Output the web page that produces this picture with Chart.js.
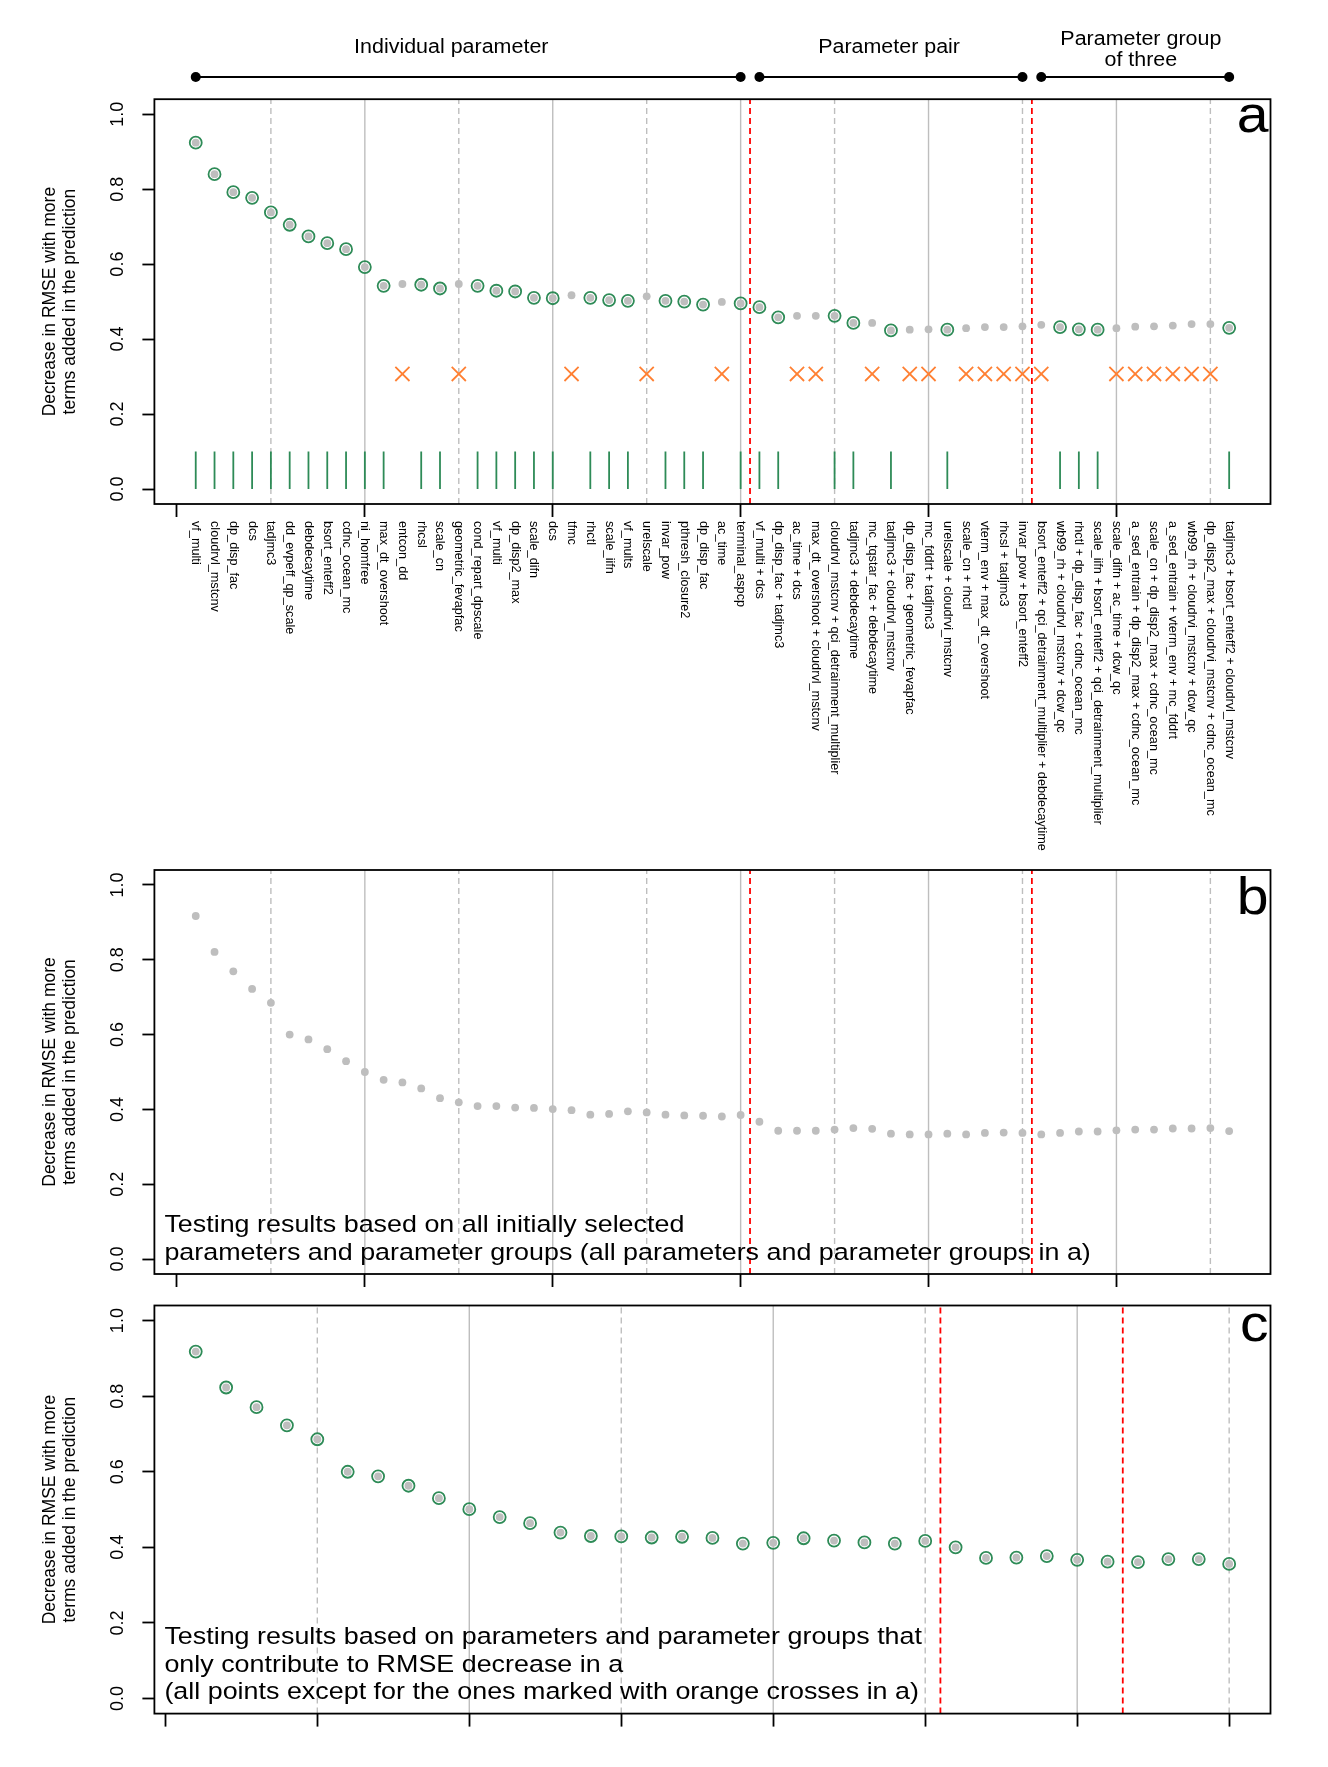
<!DOCTYPE html>
<html>
<head>
<meta charset="utf-8">
<script src="https://cdn.jsdelivr.net/npm/chart.js@4.4.1/dist/chart.umd.min.js"></script>
<style>
  html, body { margin: 0; padding: 0; background: #fff; }
  #page { position: relative; width: 1328px; height: 1767px; }
  canvas { position: absolute; left: 0; }
</style>
</head>
<body>
<div id="page">
  <canvas id="panelA" width="1328" height="862" style="top:0px"></canvas>
  <canvas id="panelB" width="1328" height="430" style="top:862px"></canvas>
  <canvas id="panelC" width="1328" height="475" style="top:1292px"></canvas>
</div>
<script>
// ---- data ----
const aLabels = [
  'vf_multi', 'cloudrvl_mstcnv', 'dp_disp_fac', 'dcs', 'tadjmc3', 'dd_evpeff_qp_scale',
  'debdecaytime', 'bsort_enteff2', 'cdnc_ocean_mc', 'ni_homfree', 'max_dt_overshoot',
  'entcon_dd', 'rhcsl', 'scale_cn', 'geometric_fevapfac', 'cond_repart_dpscale', 'vf_multi',
  'dp_disp2_max', 'scale_difn', 'dcs', 'tfmc', 'rhctl', 'scale_iifn', 'vf_mults', 'urelscale',
  'invar_pow', 'pthresh_closure2', 'dp_disp_fac', 'ac_time', 'terminal_aspcp',
  'vf_multi + dcs', 'dp_disp_fac + tadjmc3', 'ac_time + dcs',
  'max_dt_overshoot + cloudrvl_mstcnv', 'cloudrvl_mstcnv + qci_detrainment_multiplier',
  'tadjmc3 + debdecaytime', 'mc_tqstar_fac + debdecaytime', 'tadjmc3 + cloudrvl_mstcnv',
  'dp_disp_fac + geometric_fevapfac', 'mc_fddrt + tadjmc3', 'urelscale + cloudrvi_mstcnv',
  'scale_cn + rhctl', 'vterm_env + max_dt_overshoot', 'rhcsl + tadjmc3', 'invar_pow + bsort_enteff2',
  'bsort_enteff2 + qci_detrainment_multiplier + debdecaytime', 'wb99_rh + cloudrvl_mstcnv + dcw_qc',
  'rhctl + dp_disp_fac + cdnc_ocean_mc', 'scale_iifn + bsort_enteff2 + qci_detrainment_multiplier',
  'scale_difn + ac_time + dcw_qc', 'a_sed_entrain + dp_disp2_max + cdnc_ocean_mc',
  'scale_cn + dp_disp2_max + cdnc_ocean_mc', 'a_sed_entrain + vterm_env + mc_fddrt',
  'wb99_rh + cloudrvi_mstcnv + dcw_qc', 'dp_disp2_max + cloudrvi_mstcnv + cdnc_ocean_mc',
  'tadjmc3 + bsort_enteff2 + cloudrvl_mstcnv'
];

const aValues = [
  0.924, 0.840, 0.792, 0.777, 0.738, 0.705, 0.674, 0.656, 0.640, 0.592,
  0.542, 0.547, 0.545, 0.535, 0.547, 0.542, 0.529, 0.527, 0.510, 0.509,
  0.517, 0.510, 0.504, 0.502, 0.514, 0.502, 0.500, 0.492, 0.499, 0.495,
  0.485, 0.458, 0.462, 0.462, 0.462, 0.443, 0.443, 0.423, 0.425, 0.426,
  0.425, 0.429, 0.432, 0.432, 0.434, 0.438, 0.432, 0.426, 0.425, 0.429,
  0.433, 0.434, 0.436, 0.440, 0.440, 0.430
];

// indices (1-based) marked with an orange cross in a
const aDropped = [12, 15, 21, 25, 29, 33, 34, 37, 39, 40, 42, 43, 44, 45, 46, 50, 51, 52, 53, 54, 55];
const crossLevel = 0.307;
const rugTop = 0.1;

const bValues = [
  0.917, 0.821, 0.769, 0.722, 0.685, 0.600, 0.587, 0.561, 0.529, 0.500,
  0.479, 0.472, 0.456, 0.430, 0.419, 0.409, 0.409, 0.405, 0.404, 0.401,
  0.398, 0.386, 0.388, 0.395, 0.392, 0.386, 0.384, 0.383, 0.381, 0.385,
  0.367, 0.343, 0.343, 0.343, 0.346, 0.350, 0.348, 0.335, 0.333, 0.333,
  0.335, 0.333, 0.337, 0.338, 0.337, 0.333, 0.337, 0.341, 0.341, 0.344,
  0.346, 0.346, 0.349, 0.349, 0.350, 0.342
];

const cValues = [
  0.918, 0.823, 0.771, 0.723, 0.686, 0.600, 0.588, 0.563, 0.530, 0.501,
  0.480, 0.464, 0.439, 0.430, 0.429, 0.426, 0.428, 0.425, 0.410, 0.412,
  0.424, 0.418, 0.413, 0.410, 0.417, 0.400, 0.372, 0.373, 0.377, 0.367,
  0.362, 0.361, 0.369, 0.369, 0.356
];

const groupNames = [['Individual parameter'], ['Parameter pair'], ['Parameter group', 'of three']];
const groupStart = [1, 31, 46];
const groupEnd = [30, 45, 56];

const yTicks = [0, 0.2, 0.4, 0.6, 0.8, 1.0];
const abTicks = [0, 10, 20, 30, 40, 50];
const cTicks = [0, 5, 10, 15, 20, 25, 30, 35];

const abSolid = [10, 20, 30, 40, 50];
const abDashed = [5, 15, 25, 35, 45, 55];
const abRed = [30.5, 45.5];
const cSolid = [10, 20, 30];
const cDashed = [5, 15, 25, 35];
const cRed = [25.5, 31.5];

const bNote = ['Testing results based on all initially selected',
  'parameters and parameter groups (all parameters and parameter groups in a)'];
const cNote = ['Testing results based on parameters and parameter groups that',
  'only contribute to RMSE decrease in a',
  '(all points except for the ones marked with orange crosses in a)'];

// ---- styling ----
const FONT = "'Liberation Sans', Arial, Helvetica, sans-serif";
const SX = 1.1; // the original figure is a little wider than tall
const GREEN = '#2E8B57';
const GREY = '#BEBEBE';
const ORANGE = '#FF8033';
const Y_MIN = -0.04, Y_MAX = 1.04;

const aRetained = aValues.map((v, i) => i + 1).filter(i => !aDropped.includes(i));

function wideText(ctx, text, x, y, align) {
  ctx.save();
  ctx.translate(x, y);
  ctx.scale(SX, 1);
  ctx.textAlign = align;
  ctx.fillText(text, 0, 0);
  ctx.restore();
}

function vline(x, color, dash, width) {
  return {
    data: [{ x: x, y: Y_MIN }, { x: x, y: Y_MAX }],
    showLine: true, borderColor: color, borderWidth: width, borderDash: dash,
    pointRadius: 0, order: 10
  };
}

function refLines(solid, dashed, red) {
  return [
    ...solid.map(x => vline(x, GREY, [], 1.4)),
    ...dashed.map(x => vline(x, GREY, [6, 4], 1.4)),
    ...red.map(x => vline(x, '#FF0000', [6, 4], 1.8))
  ];
}

function greyDots(values) {
  return {
    data: values.map((v, i) => ({ x: i + 1, y: v })),
    pointStyle: 'circle', pointRadius: 3.9, pointBackgroundColor: GREY,
    pointBorderWidth: 0, order: 2
  };
}

function greenRings(xs, values) {
  return {
    data: xs.map((x, i) => ({ x: x, y: values[i] })),
    pointStyle: 'circle', pointRadius: 6, pointBackgroundColor: 'rgba(0,0,0,0)',
    pointBorderColor: GREEN, pointBorderWidth: 1.8, order: 1
  };
}

function framePlugin(letter, letterDrop) {
  return {
    id: 'frame' + letter,
    afterDraw(chart) {
      const { ctx, chartArea: a, scales } = chart;
      ctx.save();
      ctx.strokeStyle = '#000';
      ctx.lineWidth = 1.8;
      ctx.strokeRect(a.left, a.top, a.right - a.left, a.bottom - a.top);

      ctx.fillStyle = '#000';
      ctx.font = '18px ' + FONT;
      ctx.textAlign = 'center';
      ctx.textBaseline = 'middle';
      scales.y.ticks.forEach(t => {
        const py = scales.y.getPixelForValue(t.value);
        ctx.save();
        ctx.translate(118, py);
        ctx.rotate(-Math.PI / 2);
        ctx.fillText(t.value.toFixed(1), 0, 0);
        ctx.restore();
      });

      ctx.font = '17.5px ' + FONT;
      const midY = (a.top + a.bottom) / 2;
      [['Decrease in RMSE with more', 50.5], ['terms added in the prediction', 70.5]].forEach(([s, x]) => {
        ctx.save();
        ctx.translate(x, midY);
        ctx.rotate(-Math.PI / 2);
        ctx.fillText(s, 0, 0);
        ctx.restore();
      });

      ctx.font = '52px ' + FONT;
      ctx.textBaseline = 'alphabetic';
      wideText(ctx, letter, a.right - 2, a.top + letterDrop, 'right');
      ctx.restore();
    }
  };
}

function notePlugin(lines) {
  return {
    id: 'note',
    afterDraw(chart) {
      const { ctx, chartArea: a } = chart;
      ctx.save();
      ctx.fillStyle = '#000';
      ctx.font = '24.45px ' + FONT;
      ctx.textBaseline = 'alphabetic';
      lines.forEach((s, i) => {
        const y = a.bottom - 14.5 - (lines.length - 1 - i) * 27.5;
        wideText(ctx, s, a.left + 10, y, 'left');
      });
      ctx.restore();
    }
  };
}

const headerLabelX = [14.6, 37.9, 51.3];
const headerPlugin = {
  id: 'header',
  afterDraw(chart) {
    const { ctx, scales } = chart;
    const x = scales.x;
    ctx.save();
    ctx.strokeStyle = '#000';
    ctx.fillStyle = '#000';
    ctx.lineWidth = 2;
    groupNames.forEach((names, g) => {
      const x0 = x.getPixelForValue(groupStart[g]);
      const x1 = x.getPixelForValue(groupEnd[g]);
      ctx.beginPath();
      ctx.moveTo(x0, 77);
      ctx.lineTo(x1, 77);
      ctx.stroke();
      [x0, x1].forEach(px => {
        ctx.beginPath();
        ctx.arc(px, 77, 5, 0, Math.PI * 2);
        ctx.fill();
      });
      ctx.font = '19.5px ' + FONT;
      ctx.textBaseline = 'alphabetic';
      const cx = x.getPixelForValue(headerLabelX[g]);
      if (names.length === 1) {
        wideText(ctx, names[0], cx, 53, 'center');
      } else {
        wideText(ctx, names[0], cx, 45, 'center');
        wideText(ctx, names[1], cx, 66, 'center');
      }
    });

    // parameter names under panel a
    ctx.font = '12.7px ' + FONT;
    ctx.textAlign = 'left';
    ctx.textBaseline = 'middle';
    aLabels.forEach((name, i) => {
      const px = x.getPixelForValue(i + 1);
      ctx.save();
      ctx.translate(px, 521);
      ctx.rotate(Math.PI / 2);
      ctx.fillText(name, 0, 0);
      ctx.restore();
    });
    ctx.restore();
  }
};

function makeOptions(n, xTicks, topPad, xHeight) {
  const ext = 0.04 * (n - 1);
  return {
    responsive: false,
    animation: false,
    devicePixelRatio: 1,
    layout: { padding: { top: topPad, right: 57.5, left: 0, bottom: 0 } },
    plugins: { legend: { display: false }, tooltip: { enabled: false } },
    events: [],
    scales: {
      x: {
        type: 'linear',
        min: 1 - ext,
        max: n + ext,
        afterBuildTicks: s => { s.ticks = xTicks.map(v => ({ value: v })); },
        afterFit: s => { s.height = xHeight; },
        ticks: { display: false },
        grid: { drawOnChartArea: false, drawTicks: true, tickLength: 13, tickColor: '#000', tickWidth: 1.8 },
        border: { display: false }
      },
      y: {
        type: 'linear',
        min: Y_MIN,
        max: Y_MAX,
        afterBuildTicks: s => { s.ticks = yTicks.map(v => ({ value: v })); },
        afterFit: s => { s.width = 154.4; },
        ticks: { display: false },
        grid: { drawOnChartArea: false, drawTicks: true, tickLength: 12, tickColor: '#000', tickWidth: 1.8 },
        border: { display: false }
      }
    }
  };
}

// ---- panel a ----
const rugSets = aRetained.map(i => ({
  data: [{ x: i, y: 0 }, { x: i, y: rugTop }],
  showLine: true, borderColor: GREEN, borderWidth: 1.8, pointRadius: 0, order: 5
}));

new Chart(document.getElementById('panelA'), {
  type: 'scatter',
  data: {
    datasets: [
      ...refLines(abSolid, abDashed, abRed),
      ...rugSets,
      greyDots(aValues),
      greenRings(aRetained, aRetained.map(i => aValues[i - 1])),
      {
        data: aDropped.map(i => ({ x: i, y: crossLevel })),
        pointStyle: 'crossRot', pointRadius: 10, pointBorderColor: ORANGE,
        pointBorderWidth: 1.8, order: 1
      }
    ]
  },
  options: makeOptions(56, abTicks, 99.2, 862 - 504),
  plugins: [framePlugin('a', 33), headerPlugin]
});

// ---- panel b ----
new Chart(document.getElementById('panelB'), {
  type: 'scatter',
  data: {
    datasets: [
      ...refLines(abSolid, abDashed, abRed),
      greyDots(bValues)
    ]
  },
  options: makeOptions(56, abTicks, 8, 862 + 430 - 1274),
  plugins: [framePlugin('b', 44), notePlugin(bNote)]
});

// ---- panel c ----
const cIdx = cValues.map((v, i) => i + 1);
new Chart(document.getElementById('panelC'), {
  type: 'scatter',
  data: {
    datasets: [
      ...refLines(cSolid, cDashed, cRed),
      greyDots(cValues),
      greenRings(cIdx, cValues)
    ]
  },
  options: makeOptions(35, cTicks, 13.5, 1767 - 1713.6),
  plugins: [framePlugin('c', 35), notePlugin(cNote)]
});
</script>
</body>
</html>
